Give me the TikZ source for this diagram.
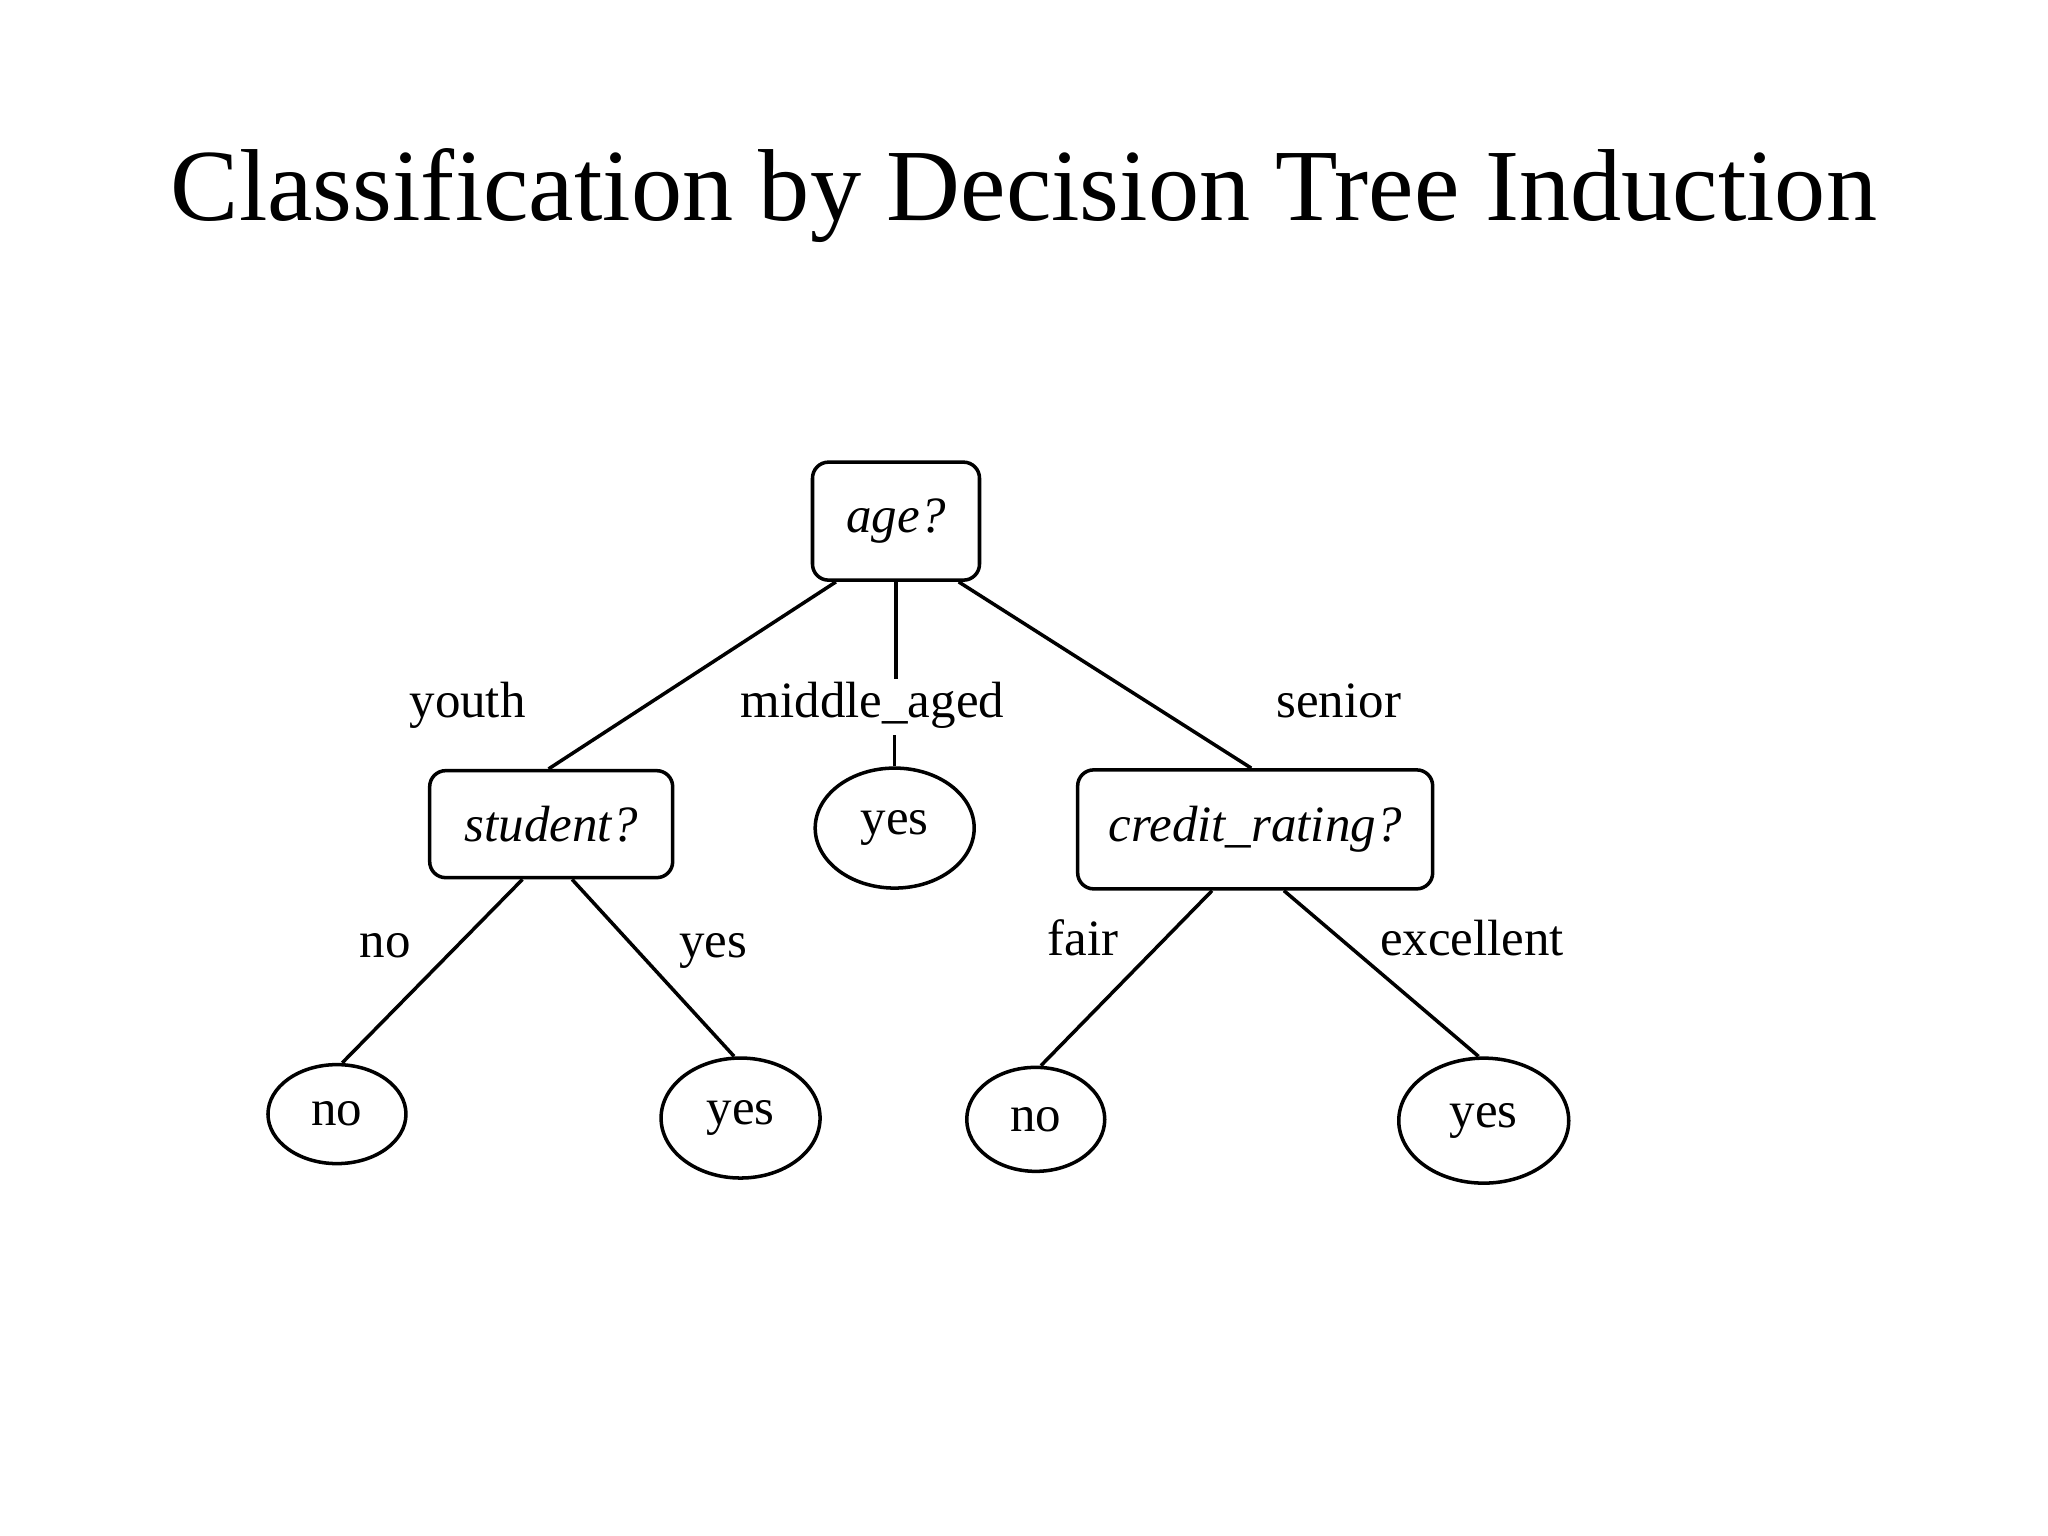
\documentclass[tikz,border=0pt]{standalone}
\usepackage{fontspec}
\setmainfont{Liberation Serif}
\usetikzlibrary{shapes.geometric,calc}
\begin{document}
\begin{tikzpicture}[x=0.013061cm,y=-0.013061cm,line width=1pt,
  dbox/.style={draw,rounded corners=0.16cm,inner sep=0pt,font=\fontsize{14.5}{16}\selectfont\itshape},
  leaf/.style={draw,ellipse,inner sep=0pt,font=\fontsize{14.5}{16}\selectfont},
  lbl/.style={font=\fontsize{14.5}{16}\selectfont,inner sep=1pt,text height=1.6ex,text depth=0.4ex}]
\useasboundingbox (0,0) rectangle (1568,1176);
\node[font=\fontsize{29.1}{34}\selectfont] (title) at (784,150) {Classification by Decision Tree Induction};
\node[dbox,minimum width=1.67cm,minimum height=1.18cm] (age) at (686,399) {age?};
\node[dbox,minimum width=2.43cm,minimum height=1.07cm] (stu) at (422,631) {student?};
\node[leaf,minimum width=1.59cm,minimum height=1.2cm] (ymid) at (685,634) {yes};
\node[dbox,minimum width=3.55cm,minimum height=1.19cm] (cr) at (961,635) {credit\_rating?};
\node[leaf,minimum width=1.38cm,minimum height=0.99cm] (n1) at (258,853) {no};
\node[leaf,minimum width=1.59cm,minimum height=1.2cm] (y1) at (567,856) {yes};
\node[leaf,minimum width=1.38cm,minimum height=1.04cm] (n2) at (793,857) {no};
\node[leaf,minimum width=1.7cm,minimum height=1.25cm] (y2) at (1136,858) {yes};
\node[lbl] (lyouth) at (358,542) {youth};
\node[lbl] (lmid) at (668,542) {middle\_aged};
\node[lbl] (lsen) at (1025,542) {senior};
\node[lbl] (lno) at (295,726) {no};
\node[lbl] (lyes) at (546,726) {yes};
\node[lbl] (lfair) at (829,724) {fair};
\node[lbl] (lexc) at (1127,724) {excellent};
\draw ($(age.south)+(-46,0)$) -- ($(stu.north)+(-2,0)$);
\draw (age.south) -- ++(0,74) coordinate (m1);
\draw (ymid.north) -- ++(0,-24) coordinate (m2);
\draw ($(age.south)+(48,0)$) -- ($(cr.north)+(-3,0)$);
\draw ($(stu.south)+(-22,0)$) -- ($(n1.north)+(4,0)$);
\draw ($(stu.south)+(16,0)$) -- ($(y1.north)+(-5,0)$);
\draw ($(cr.south)+(-33,0)$) -- ($(n2.north)+(4,0)$);
\draw ($(cr.south)+(22,0)$) -- ($(y2.north)+(-4,0)$);
\end{tikzpicture}
\end{document}
